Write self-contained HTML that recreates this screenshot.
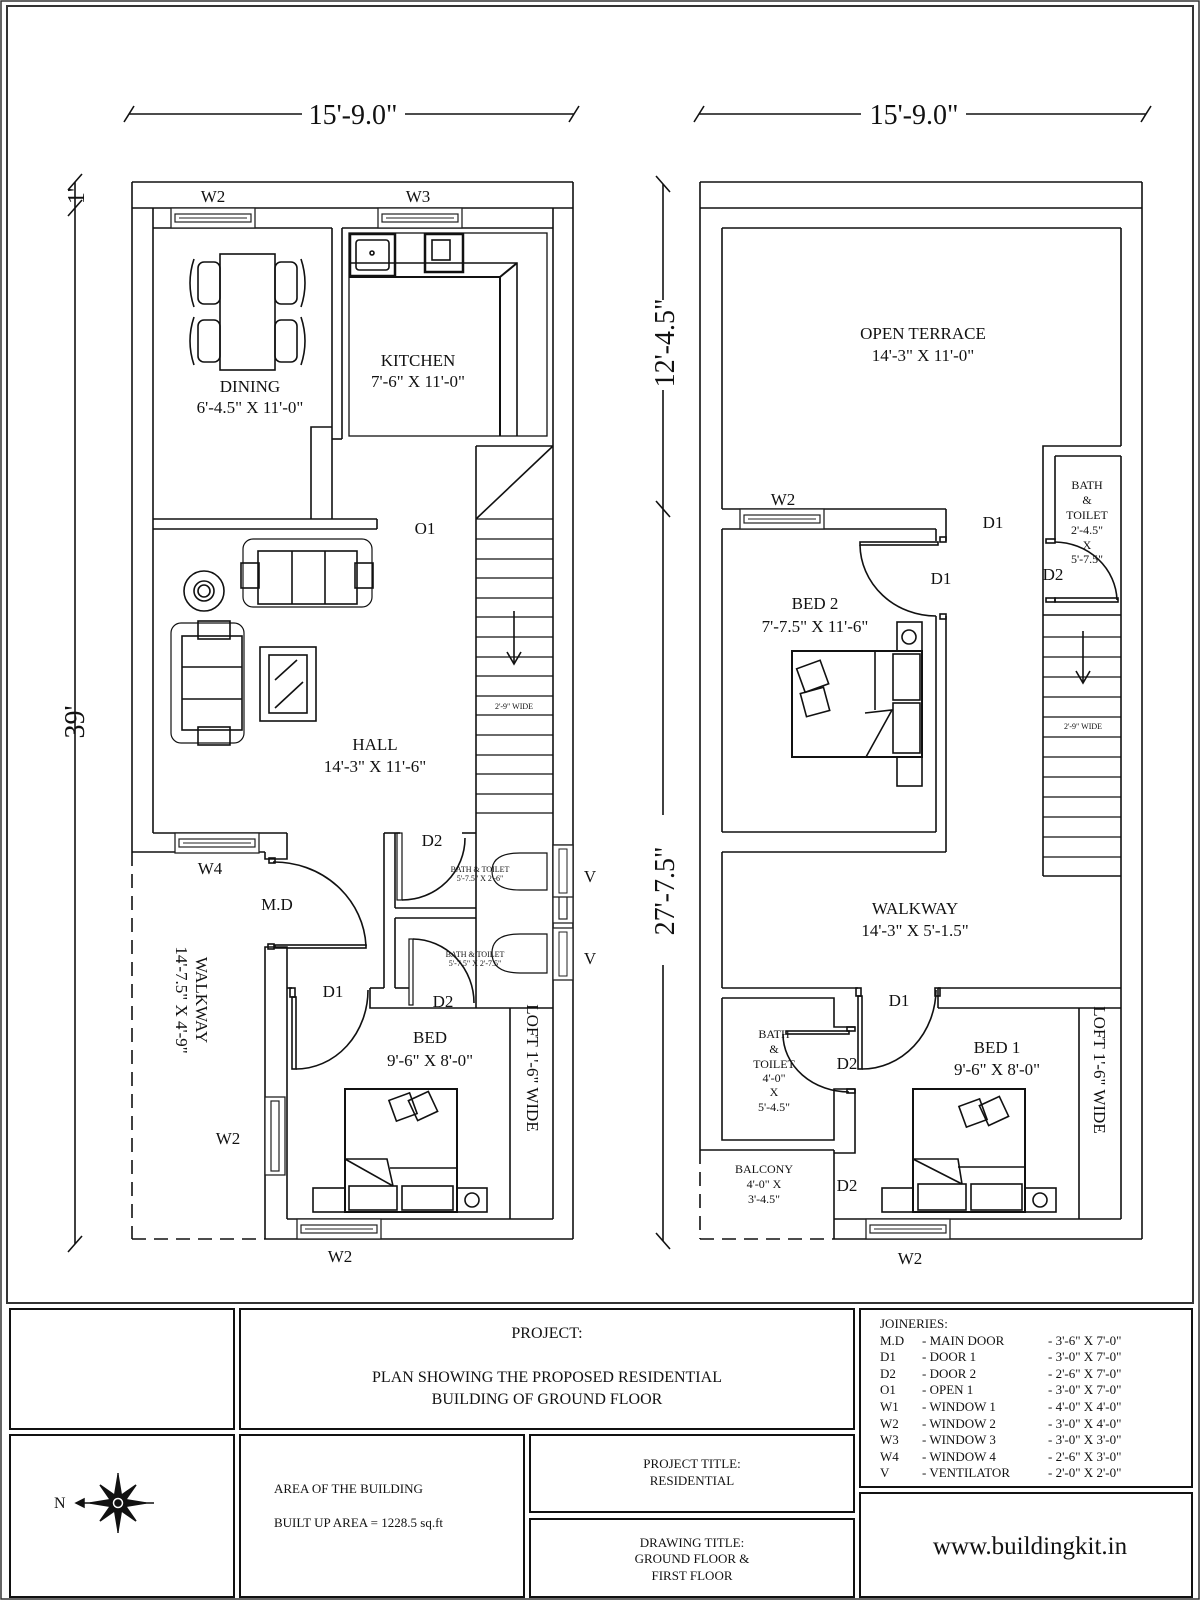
<!DOCTYPE html>
<html><head><meta charset="utf-8"><style>
html,body{margin:0;padding:0;background:#fff}
svg{display:block}
text{font-family:"Liberation Serif",serif;fill:#111}
</style></head><body>
<svg width="1200" height="1600" viewBox="0 0 1200 1600" xmlns="http://www.w3.org/2000/svg">
<defs>
<g id="win"><rect x="0" y="0" width="84" height="20" fill="#fff" stroke="#222" stroke-width="1.3"/><rect x="4" y="6" width="76" height="8" fill="none" stroke="#222" stroke-width="1.2"/><line x1="8" y1="10" x2="76" y2="10" stroke="#222" stroke-width="1"/></g>
<g id="wini"><rect x="0" y="0" width="20" height="78" fill="#fff" stroke="#222" stroke-width="1.3"/><rect x="6" y="4" width="8" height="70" fill="none" stroke="#222" stroke-width="1.2"/></g>
</defs>
<rect x="1" y="1" width="1198" height="1598" fill="none" stroke="#333" stroke-width="1.5"/>
<rect x="7" y="6" width="1186" height="1297" fill="none" stroke="#333" stroke-width="2"/>

<g stroke="#111" stroke-width="1.6" fill="none">
<!-- dimension lines -->
<line x1="129" y1="114" x2="302" y2="114"/><line x1="405" y1="114" x2="574" y2="114"/>
<line x1="124" y1="122" x2="134" y2="106"/><line x1="569" y1="122" x2="579" y2="106"/>
<line x1="699" y1="114" x2="861" y2="114"/><line x1="966" y1="114" x2="1146" y2="114"/>
<line x1="694" y1="122" x2="704" y2="106"/><line x1="1141" y1="122" x2="1151" y2="106"/>
<line x1="75" y1="182" x2="75" y2="1244"/>
<line x1="68" y1="190" x2="82" y2="174"/><line x1="68" y1="216" x2="82" y2="200"/><line x1="68" y1="1252" x2="82" y2="1236"/>
<line x1="663" y1="184" x2="663" y2="300"/><line x1="663" y1="390" x2="663" y2="815"/><line x1="663" y1="965" x2="663" y2="1241"/>
<line x1="656" y1="176" x2="670" y2="192"/><line x1="656" y1="501" x2="670" y2="517"/><line x1="656" y1="1233" x2="670" y2="1249"/>

<!-- LEFT PLAN -->
<line x1="132" y1="182" x2="573" y2="182"/><line x1="132" y1="208" x2="573" y2="208"/>
<line x1="132" y1="182" x2="132" y2="852"/><line x1="573" y1="182" x2="573" y2="1239"/>
<line x1="153" y1="208" x2="153" y2="833"/><line x1="553" y1="208" x2="553" y2="1219"/>
<line x1="132" y1="852" x2="132" y2="1239" stroke-dasharray="14 8"/><line x1="132" y1="1239" x2="265" y2="1239" stroke-dasharray="14 8"/>
<line x1="265" y1="1239" x2="573" y2="1239"/><line x1="287" y1="1219" x2="553" y2="1219"/>
<line x1="153" y1="228" x2="332" y2="228"/><line x1="332" y1="228" x2="332" y2="519"/>
<polyline points="332,427 311,427 311,519"/>
<polyline points="342,439 332,439"/><line x1="342" y1="228" x2="342" y2="439"/><line x1="342" y1="228" x2="553" y2="228"/>
<line x1="153" y1="519" x2="377" y2="519"/><line x1="153" y1="529" x2="377" y2="529"/><line x1="377" y1="519" x2="377" y2="529"/>
<!-- kitchen counter -->
<rect x="349" y="233" width="198" height="203" stroke-width="1.3"/>
<polyline points="349,277 500,277 500,436" stroke-width="2"/><line x1="500" y1="277" x2="517" y2="263" stroke-width="2"/><polyline points="349,263 517,263 517,436"/>
<rect x="350" y="234" width="45" height="42" stroke-width="2.5"/><rect x="356" y="240" width="33" height="30" rx="3"/><circle cx="372" cy="253" r="2"/>
<rect x="425" y="234" width="38" height="38" stroke-width="2.5"/><rect x="432" y="240" width="18" height="20"/>
<!-- stair -->
<line x1="476" y1="446" x2="476" y2="833"/><line x1="476" y1="446" x2="553" y2="446"/><line x1="476" y1="519" x2="553" y2="446"/>
<g stroke-width="1.2">
<line x1="476" y1="519" x2="553" y2="519"/><line x1="476" y1="539" x2="553" y2="539"/><line x1="476" y1="559" x2="553" y2="559"/><line x1="476" y1="578" x2="553" y2="578"/><line x1="476" y1="598" x2="553" y2="598"/><line x1="476" y1="617" x2="553" y2="617"/><line x1="476" y1="637" x2="553" y2="637"/><line x1="476" y1="657" x2="553" y2="657"/><line x1="476" y1="676" x2="553" y2="676"/><line x1="476" y1="696" x2="553" y2="696"/><line x1="476" y1="715" x2="553" y2="715"/><line x1="476" y1="735" x2="553" y2="735"/><line x1="476" y1="755" x2="553" y2="755"/><line x1="476" y1="774" x2="553" y2="774"/><line x1="476" y1="794" x2="553" y2="794"/><line x1="476" y1="813" x2="553" y2="813"/>
</g>
<line x1="514" y1="611" x2="514" y2="664"/><polyline points="507,652 514,664 521,652"/>
<!-- dining furniture -->
<rect x="220" y="254" width="55" height="116"/>
<rect x="198" y="262" width="22" height="42" rx="6"/><rect x="198" y="320" width="22" height="42" rx="6"/><rect x="275" y="262" width="22" height="42" rx="6"/><rect x="275" y="320" width="22" height="42" rx="6"/>
<path d="M194 259 Q186 283 194 307"/><path d="M194 317 Q186 341 194 365"/><path d="M301 259 Q309 283 301 307"/><path d="M301 317 Q309 341 301 365"/>
<!-- hall furniture -->
<rect x="243" y="539" width="129" height="68" rx="10" stroke-width="1.2"/><rect x="258" y="551" width="99" height="53"/><line x1="292" y1="551" x2="292" y2="604"/><line x1="325" y1="551" x2="325" y2="604"/>
<rect x="241" y="563" width="18" height="25"/><rect x="355" y="563" width="18" height="25"/>
<circle cx="204" cy="591" r="20"/><circle cx="204" cy="591" r="10"/><circle cx="204" cy="591" r="6"/>
<rect x="171" y="623" width="73" height="120" rx="10" stroke-width="1.2"/><rect x="182" y="636" width="60" height="94"/><line x1="182" y1="667" x2="242" y2="667"/><line x1="182" y1="699" x2="242" y2="699"/>
<rect x="198" y="621" width="32" height="18"/><rect x="198" y="727" width="32" height="18"/>
<rect x="260" y="647" width="56" height="74"/><rect x="269" y="655" width="38" height="58"/><line x1="275" y1="680" x2="297" y2="660"/><line x1="275" y1="708" x2="303" y2="682"/>
<!-- below hall -->
<line x1="153" y1="833" x2="287" y2="833"/><line x1="132" y1="852" x2="265" y2="852"/>
<polyline points="287,833 287,859 265,859 265,852"/>
<rect x="269" y="858" width="6" height="5"/>
<path d="M273 862 A 92 88 0 0 1 366 946"/>
<rect x="275" y="945" width="91" height="3"/>
<polyline points="265,1239 265,947 287,947 287,1219" />
<rect x="268" y="944" width="6" height="5"/>
<!-- bed room top wall and bath -->
<polyline points="287,988 292,988"/>
<rect x="290" y="988" width="5" height="9"/><rect x="292" y="997" width="4" height="72"/>
<path d="M296 1069 A 72 79 0 0 0 368 990"/>
<polyline points="370,988 370,1008 553,1008"/><line x1="370" y1="988" x2="384" y2="988"/>
<line x1="384" y1="833" x2="384" y2="988"/><line x1="395" y1="833" x2="395" y2="908"/><line x1="395" y1="918" x2="395" y2="988"/>
<line x1="384" y1="833" x2="400" y2="833"/><line x1="462" y1="833" x2="476" y2="833"/>
<line x1="395" y1="908" x2="476" y2="908"/><line x1="395" y1="918" x2="476" y2="918"/>
<rect x="397" y="833" width="5" height="67" stroke-width="1.2"/>
<path d="M402 900 A 63 62 0 0 0 465 838"/>
<rect x="409" y="939" width="4" height="66" stroke-width="1.2"/>
<path d="M413 939 A 62 64 0 0 1 474 1003"/>
<line x1="395" y1="988" x2="409" y2="988"/>
<line x1="476" y1="833" x2="476" y2="1008"/>
<path d="M547 853 L520 853 Q492 853 492 871 Q492 890 520 890 L547 890 Z" stroke-width="1.2"/>
<path d="M547 934 L520 934 Q492 934 492 953 Q492 973 520 973 L547 973 Z" stroke-width="1.2"/>
<line x1="510" y1="1008" x2="510" y2="1219"/>
<!-- left bed -->
<rect x="345" y="1089" width="112" height="123" stroke-width="2"/>
<rect x="349" y="1186" width="48" height="24"/><rect x="402" y="1186" width="51" height="24"/>
<polyline points="345,1159 387,1159 393,1186"/><line x1="345" y1="1159" x2="393" y2="1186"/><line x1="390" y1="1168" x2="457" y2="1168"/>
<rect x="392" y="1096" width="22" height="22" transform="rotate(-20 403 1107)"/><rect x="412" y="1095" width="22" height="22" transform="rotate(-25 423 1106)"/>
<rect x="313" y="1188" width="32" height="24"/><rect x="457" y="1188" width="30" height="24"/><circle cx="472" cy="1200" r="7"/>

<!-- RIGHT PLAN -->
<line x1="700" y1="182" x2="1142" y2="182"/><line x1="700" y1="208" x2="1142" y2="208"/>
<line x1="700" y1="182" x2="700" y2="1150"/><line x1="700" y1="1150" x2="700" y2="1239" stroke-dasharray="14 8"/>
<line x1="700" y1="1239" x2="834" y2="1239" stroke-dasharray="14 8"/><line x1="834" y1="1239" x2="1142" y2="1239"/>
<line x1="1142" y1="182" x2="1142" y2="1239"/>
<line x1="722" y1="228" x2="1121" y2="228"/><line x1="722" y1="228" x2="722" y2="509"/><line x1="1121" y1="228" x2="1121" y2="446"/>
<polyline points="1121,446 1043,446 1043,876"/><line x1="1121" y1="456" x2="1121" y2="1219"/>
<line x1="722" y1="509" x2="946" y2="509"/><line x1="946" y1="509" x2="946" y2="541"/>
<line x1="722" y1="529" x2="936" y2="529"/><line x1="936" y1="529" x2="936" y2="541"/>
<rect x="940" y="537" width="6" height="5"/>
<rect x="860" y="542" width="78" height="3"/>
<path d="M860 545 A 76 72 0 0 0 936 616"/>
<rect x="940" y="614" width="6" height="5"/>
<line x1="936" y1="616" x2="936" y2="832"/><line x1="946" y1="616" x2="946" y2="852"/>
<line x1="722" y1="529" x2="722" y2="832"/><line x1="722" y1="832" x2="936" y2="832"/>
<line x1="722" y1="852" x2="946" y2="852"/><line x1="722" y1="852" x2="722" y2="988"/>
<line x1="1055" y1="456" x2="1121" y2="456"/><line x1="1055" y1="456" x2="1055" y2="540"/>
<rect x="1046" y="539" width="9" height="4"/>
<path d="M1055 542 A 63 60 0 0 1 1117 600"/>
<rect x="1055" y="598" width="63" height="4"/><rect x="1046" y="598" width="9" height="4"/>
<line x1="1043" y1="615" x2="1121" y2="615"/>
<g stroke-width="1.2">
<line x1="1043" y1="637" x2="1121" y2="637"/><line x1="1043" y1="657" x2="1121" y2="657"/><line x1="1043" y1="677" x2="1121" y2="677"/><line x1="1043" y1="697" x2="1121" y2="697"/><line x1="1043" y1="717" x2="1121" y2="717"/><line x1="1043" y1="737" x2="1121" y2="737"/><line x1="1043" y1="757" x2="1121" y2="757"/><line x1="1043" y1="777" x2="1121" y2="777"/><line x1="1043" y1="797" x2="1121" y2="797"/><line x1="1043" y1="817" x2="1121" y2="817"/><line x1="1043" y1="837" x2="1121" y2="837"/><line x1="1043" y1="857" x2="1121" y2="857"/>
</g>
<line x1="1043" y1="876" x2="1121" y2="876"/>
<line x1="1083" y1="631" x2="1083" y2="683"/><polyline points="1076,671 1083,683 1090,671"/>
<!-- bed2 furniture -->
<rect x="792" y="651" width="130" height="106" stroke-width="2"/>
<line x1="875" y1="651" x2="875" y2="710"/><rect x="893" y="654" width="27" height="46"/><rect x="893" y="703" width="27" height="50"/>
<polyline points="865,713 892,710 866,757"/>
<rect x="897" y="622" width="25" height="29"/><circle cx="909" cy="637" r="7"/><rect x="897" y="757" width="25" height="29"/>
<rect x="800" y="664" width="25" height="25" transform="rotate(-20 812 676)"/><rect x="803" y="690" width="24" height="24" transform="rotate(-15 815 702)"/>
<!-- walkway bottom / bed1 -->
<line x1="722" y1="988" x2="858" y2="988"/><line x1="938" y1="988" x2="1121" y2="988"/>
<line x1="938" y1="988" x2="938" y2="1008"/><line x1="938" y1="1008" x2="1121" y2="1008"/>
<rect x="856" y="988" width="5" height="8"/><rect x="858" y="996" width="4" height="73"/>
<path d="M862 1069 A 74 80 0 0 0 936 990"/>
<rect x="935" y="988" width="5" height="8"/>
<line x1="1079" y1="1008" x2="1079" y2="1219"/>
<polyline points="722,998 834,998 834,1027 855,1027"/>
<rect x="847" y="1027" width="8" height="4"/>
<rect x="786" y="1031" width="63" height="3"/>
<path d="M783 1034 A 66 58 0 0 0 849 1092"/>
<polyline points="855,1089 834,1089 834,1140 722,1140 722,998"/>
<rect x="847" y="1089" width="8" height="4"/>
<polyline points="855,1089 855,1153 834,1153"/>
<line x1="700" y1="1150" x2="834" y2="1150"/><line x1="834" y1="1150" x2="834" y2="1239"/>
<line x1="834" y1="1219" x2="1121" y2="1219"/>
<rect x="913" y="1089" width="112" height="123" stroke-width="2"/>
<rect x="918" y="1184" width="48" height="26"/><rect x="971" y="1184" width="51" height="26"/>
<polyline points="913,1159 958,1159 962,1184"/><line x1="913" y1="1159" x2="962" y2="1184"/><line x1="958" y1="1167" x2="1025" y2="1167"/>
<rect x="962" y="1102" width="22" height="22" transform="rotate(-20 973 1113)"/><rect x="983" y="1100" width="22" height="22" transform="rotate(-25 994 1111)"/>
<rect x="882" y="1188" width="31" height="24"/><rect x="1025" y="1188" width="31" height="24"/><circle cx="1040" cy="1200" r="7"/>

<!-- title block boxes -->
<rect x="10" y="1309" width="224" height="120" stroke-width="2"/>
<rect x="240" y="1309" width="614" height="120" stroke-width="2"/>
<rect x="860" y="1309" width="332" height="178" stroke-width="2"/>
<rect x="10" y="1435" width="224" height="162" stroke-width="2"/>
<rect x="240" y="1435" width="284" height="162" stroke-width="2"/>
<rect x="530" y="1435" width="324" height="77" stroke-width="2"/>
<rect x="530" y="1519" width="324" height="78" stroke-width="2"/>
<rect x="860" y="1493" width="332" height="104" stroke-width="2"/>
</g>
<!-- windows -->
<use href="#win" x="171" y="208"/><use href="#win" x="378" y="208"/>
<use href="#win" x="175" y="833" transform="translate(0,0)"/>
<use href="#wini" x="265" y="1097"/>
<use href="#win" x="297" y="1219"/>
<use href="#wini" x="553" y="845" transform="translate(0,0)"/>
<rect x="553" y="845" width="20" height="52" fill="#fff" stroke="#222" stroke-width="1.3"/><rect x="559" y="849" width="8" height="44" fill="none" stroke="#222"/>
<rect x="553" y="928" width="20" height="52" fill="#fff" stroke="#222" stroke-width="1.3"/><rect x="559" y="932" width="8" height="44" fill="none" stroke="#222"/>
<use href="#win" x="740" y="509"/>
<use href="#win" x="866" y="1219"/>

<!-- compass -->
<g stroke="#111" stroke-width="1.5" fill="#111" transform="translate(118,1503)">
<line x1="-42" y1="0" x2="36" y2="0"/><line x1="0" y1="-30" x2="0" y2="30"/>
<polygon points="0,-28 4,-4 0,0 -4,-4"/><polygon points="0,28 4,4 0,0 -4,4"/><polygon points="-28,0 -4,4 0,0 -4,-4"/><polygon points="28,0 4,4 0,0 4,-4"/>
<polygon points="-18,-18 2,-4 0,0 -4,2"/><polygon points="18,-18 -2,-4 0,0 4,2"/><polygon points="-18,18 2,4 0,0 -4,-2"/><polygon points="18,18 -2,4 0,0 4,-2"/>
<circle cx="0" cy="0" r="6" fill="#fff"/><circle cx="0" cy="0" r="3"/>
<polygon points="-42,0 -34,-4 -34,4"/>
</g>

<!-- texts -->
<g font-size="28" text-anchor="middle">
<text x="353" y="124">15'-9.0"</text>
<text x="914" y="124">15'-9.0"</text>
<text transform="translate(84,722) rotate(-90)">39'</text>
<text transform="translate(674,343) rotate(-90)">12'-4.5"</text>
<text transform="translate(674,891) rotate(-90)">27'-7.5"</text>
<text transform="translate(84,196) rotate(-90)" font-size="24">1'</text>
</g>
<g font-size="17" text-anchor="middle">
<text x="213" y="202">W2</text><text x="418" y="202">W3</text>
<text x="250" y="392">DINING</text><text x="250" y="413">6'-4.5" X 11'-0"</text>
<text x="418" y="366">KITCHEN</text><text x="418" y="387">7'-6" X 11'-0"</text>
<text x="425" y="534">O1</text>
<text x="375" y="750">HALL</text><text x="375" y="772">14'-3" X 11'-6"</text>
<text x="210" y="874">W4</text><text x="277" y="910">M.D</text>
<text x="432" y="846">D2</text><text x="333" y="997">D1</text><text x="443" y="1007">D2</text>
<text x="430" y="1043">BED</text><text x="430" y="1066">9'-6" X 8'-0"</text>
<text x="228" y="1144">W2</text><text x="340" y="1262">W2</text>
<text x="590" y="882">V</text><text x="590" y="964">V</text>
<text transform="translate(527,1068) rotate(90)">LOFT 1'-6" WIDE</text>
<text transform="translate(196,1000) rotate(90)">WALKWAY</text>
<text transform="translate(176,1000) rotate(90)">14'-7.5" X 4'-9"</text>
<text x="923" y="339">OPEN TERRACE</text><text x="923" y="361">14'-3" X 11'-0"</text>
<text x="783" y="505">W2</text><text x="993" y="528">D1</text><text x="941" y="584">D1</text><text x="1053" y="580">D2</text>
<text x="815" y="609">BED 2</text><text x="815" y="632">7'-7.5" X 11'-6"</text>
<text x="915" y="914">WALKWAY</text><text x="915" y="936">14'-3" X 5'-1.5"</text>
<text x="899" y="1006">D1</text><text x="847" y="1069">D2</text><text x="847" y="1191">D2</text>
<text x="997" y="1053">BED 1</text><text x="997" y="1075">9'-6" X 8'-0"</text>
<text transform="translate(1094,1070) rotate(90)">LOFT 1'-6" WIDE</text>
<text x="910" y="1264">W2</text>
</g>
<g font-size="12" text-anchor="middle">
<text x="1087" y="489">BATH</text><text x="1087" y="504">&amp;</text><text x="1087" y="519">TOILET</text><text x="1087" y="534">2'-4.5"</text><text x="1087" y="549">X</text><text x="1087" y="563">5'-7.5"</text>
<text x="774" y="1038">BATH</text><text x="774" y="1053">&amp;</text><text x="774" y="1068">TOILET</text><text x="774" y="1082">4'-0"</text><text x="774" y="1096">X</text><text x="774" y="1111">5'-4.5"</text>
<text x="764" y="1173">BALCONY</text><text x="764" y="1188">4'-0" X</text><text x="764" y="1203">3'-4.5"</text>
</g>
<g font-size="8" text-anchor="middle">
<text x="480" y="872">BATH &amp; TOILET</text><text x="480" y="881">5'-7.5" X 2'-6"</text>
<text x="475" y="957">BATH &amp; TOILET</text><text x="475" y="966">5'-7.5" X 2'-7.5"</text>
<text x="514" y="709">2'-9" WIDE</text><text x="1083" y="729">2'-9" WIDE</text>
</g>
<g font-size="16" text-anchor="middle">
<text x="547" y="1338">PROJECT:</text>
<text x="547" y="1382">PLAN SHOWING THE PROPOSED RESIDENTIAL</text>
<text x="547" y="1404">BUILDING OF GROUND FLOOR</text>
</g>
<g font-size="13" text-anchor="middle">
<text x="692" y="1468">PROJECT TITLE:</text><text x="692" y="1485">RESIDENTIAL</text>
<text x="692" y="1547">DRAWING TITLE:</text><text x="692" y="1563">GROUND FLOOR &amp;</text><text x="692" y="1580">FIRST FLOOR</text>
</g>
<g font-size="13">
<text x="274" y="1493">AREA OF THE BUILDING</text>
<text x="274" y="1527">BUILT UP AREA  = 1228.5 sq.ft</text>
<text x="54" y="1508" font-size="16">N</text>
<text x="880" y="1328">JOINERIES:</text>
<text x="880" y="1345">M.D</text><text x="922" y="1345">- MAIN DOOR</text><text x="1048" y="1345">- 3'-6" X 7'-0"</text>
<text x="880" y="1361">D1</text><text x="922" y="1361">- DOOR 1</text><text x="1048" y="1361">- 3'-0" X 7'-0"</text>
<text x="880" y="1378">D2</text><text x="922" y="1378">- DOOR 2</text><text x="1048" y="1378">- 2'-6" X 7'-0"</text>
<text x="880" y="1394">O1</text><text x="922" y="1394">- OPEN 1</text><text x="1048" y="1394">- 3'-0" X 7'-0"</text>
<text x="880" y="1411">W1</text><text x="922" y="1411">- WINDOW 1</text><text x="1048" y="1411">- 4'-0" X 4'-0"</text>
<text x="880" y="1428">W2</text><text x="922" y="1428">- WINDOW 2</text><text x="1048" y="1428">- 3'-0" X 4'-0"</text>
<text x="880" y="1444">W3</text><text x="922" y="1444">- WINDOW 3</text><text x="1048" y="1444">- 3'-0" X 3'-0"</text>
<text x="880" y="1461">W4</text><text x="922" y="1461">- WINDOW 4</text><text x="1048" y="1461">- 2'-6" X 3'-0"</text>
<text x="880" y="1477">V</text><text x="922" y="1477">- VENTILATOR</text><text x="1048" y="1477">- 2'-0" X 2'-0"</text>
</g>
<text x="1030" y="1554" font-size="25" text-anchor="middle">www.buildingkit.in</text>
</svg>
</body></html>
